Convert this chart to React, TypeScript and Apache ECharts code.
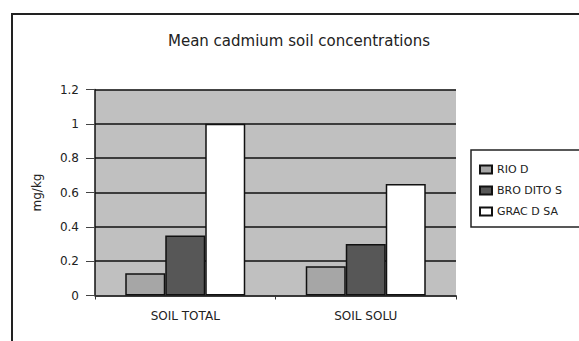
import React, { useEffect, useRef } from "react";
import * as echarts from "echarts";

// Mean cadmium concentrations (mg/kg) per soil fraction and site
const categories = ["SOIL TOTAL", "SOIL SOLU"];
const siteNames = ["RIO D", "BRO DITO S", "GRAC D SA"];
const rioValues = [0.13, 0.17];
const broValues = [0.35, 0.3];
const gracValues = [1.0, 0.65];
const yTicks = [0, 0.2, 0.4, 0.6, 0.8, 1, 1.2];

const FONT = "DejaVu Sans";

export default function App() {
  const ref = useRef<HTMLDivElement>(null);

  useEffect(() => {
    if (!ref.current) return;
    const chart = echarts.init(ref.current, null, { renderer: "svg" });
    const seriesValues = [rioValues, broValues, gracValues];
    const fills = ["#a6a6a6", "#575757", "#ffffff"];

    chart.setOption({
      animation: false,
      backgroundColor: "#ffffff",
      grid: {
        left: 95,
        right: 123,
        top: 89.5,
        bottom: 45.5,
        show: true,
        backgroundColor: "#c0c0c0",
        borderWidth: 0,
      },
      xAxis: {
        type: "category",
        data: categories,
        axisLine: { lineStyle: { color: "#333", width: 1.5 } },
        axisTick: { show: true, length: 4, lineStyle: { color: "#333" } },
        axisLabel: {
          color: "#222",
          fontFamily: FONT,
          fontSize: 12,
          margin: 14,
        },
      },
      yAxis: {
        type: "value",
        min: yTicks[0],
        max: yTicks[yTicks.length - 1],
        interval: 0.2,
        name: "mg/kg",
        nameLocation: "middle",
        nameGap: 52,
        nameRotate: 90,
        nameTextStyle: { color: "#222", fontFamily: FONT, fontSize: 12 },
        axisLine: { show: true, lineStyle: { color: "#111", width: 1.5 } },
        axisTick: { show: true, length: 9, lineStyle: { color: "#444" } },
        axisLabel: {
          color: "#222",
          fontFamily: FONT,
          fontSize: 12,
          margin: 16,
          formatter: (v: number) => String(Math.round(v * 10) / 10),
        },
        splitLine: {
          show: true,
          lineStyle: { color: "#111", width: 1.5 },
        },
      },
      legend: {
        orient: "vertical",
        left: 474,
        top: 159,
        itemWidth: 12,
        itemHeight: 8,
        itemGap: 10,
        z: 10,
        textStyle: { color: "#222", fontFamily: FONT, fontSize: 11 },
        data: siteNames.map((n) => ({ name: n, icon: "rect" })),
      },
      graphic: [
        {
          type: "rect",
          z: -10,
          shape: { x: 12, y: 14, width: 700, height: 500 },
          style: { fill: "none", stroke: "#222", lineWidth: 2 },
        },
        {
          type: "rect",
          z: 1,
          shape: { x: 471, y: 150, width: 200, height: 77 },
          style: { fill: "#ffffff", stroke: "#222", lineWidth: 1.5 },
        },
        {
          type: "text",
          z: 5,
          x: 299,
          y: 41,
          style: {
            text: "Mean cadmium soil concentrations",
            fill: "#222",
            font: `15px "${FONT}"`,
            textAlign: "center",
            textVerticalAlign: "middle",
          },
        },
      ],
      series: siteNames.map((name, i) => ({
        name,
        type: "bar",
        data: seriesValues[i],
        barWidth: 40,
        barGap: "0%",
        itemStyle: { color: fills[i], borderColor: "#111", borderWidth: 1.5 },
      })),
    });

    return () => chart.dispose();
  }, []);

  return (
    <div
      ref={ref}
      style={{ position: "fixed", left: 0, top: 0, width: 579, height: 341 }}
    />
  );
}
